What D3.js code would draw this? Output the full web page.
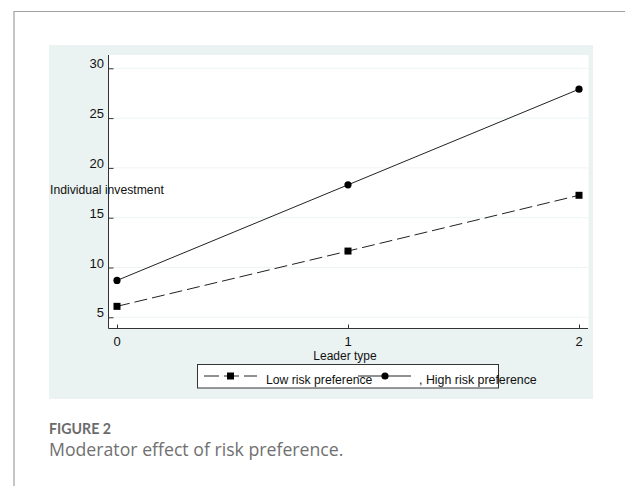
<!DOCTYPE html>
<html>
<head>
<meta charset="utf-8">
<script src="https://cdn.jsdelivr.net/npm/d3@7"></script>
<style>
  body { margin: 0; background: #fff; }
  svg { display: block; }
</style>
</head>
<body>
<script>
let w = 625;
let h = 486;

let leaderType = [0, 1, 2];
let lowRisk = [6.1, 11.65, 17.25];
let highRisk = [8.7, 18.3, 27.9];
let yTicks = [5, 10, 15, 20, 25, 30];
let seriesNames = ["Low risk preference", "High risk preference"];

let xScale = d3.scaleLinear()
               .domain([0, 2])
               .range([117, 579]);
let yScale = d3.scaleLinear()
               .domain([5, 30])
               .range([317.3, 68.3]);

let svg = d3.select("body")
            .append("svg")
            .attr("width", w)
            .attr("height", h);

// outer frame
svg.append("path")
   .attr("d", "M14,486 V11.5 H625")
   .attr("fill", "none")
   .attr("stroke", "#a0a0a0")
   .attr("stroke-width", 1.2);

// panel and plot region
svg.append("rect")
   .attr("x", 49).attr("y", 45)
   .attr("width", 544).attr("height", 354)
   .attr("fill", "#eaf2f2");
svg.append("rect")
   .attr("x", 108.5).attr("y", 55)
   .attr("width", 480).attr("height", 273.5)
   .attr("fill", "#fff");

// gridlines
svg.selectAll("line.grid")
   .data(yTicks)
   .enter()
   .append("line")
   .attr("class", "grid")
   .attr("x1", 109).attr("x2", 588)
   .attr("y1", d => yScale(d)).attr("y2", d => yScale(d))
   .attr("stroke", "#eef4f4")
   .attr("stroke-width", 1);

// y axis
let yAxis = d3.axisRight(yScale)
              .tickValues(yTicks)
              .tickSize(5)
              .tickFormat("");
svg.append("g")
   .attr("transform", "translate(108.5,0)")
   .call(yAxis)
   .call(g => g.select(".domain").remove())
   .call(g => g.selectAll("line").attr("stroke", "#333"));
svg.append("line")
   .attr("x1", 108.5).attr("x2", 108.5)
   .attr("y1", 55).attr("y2", 328.5)
   .attr("stroke", "#333");
svg.selectAll("text.ytick")
   .data(yTicks)
   .enter()
   .append("text")
   .attr("class", "ytick")
   .attr("x", 104)
   .attr("y", d => yScale(d))
   .attr("text-anchor", "end")
   .attr("font-family", "Liberation Sans, Arial, sans-serif")
   .attr("font-size", "13px")
   .attr("fill", "#111")
   .text(d => d);

// x axis
let xAxis = d3.axisTop(xScale)
              .tickValues(leaderType)
              .tickSize(4)
              .tickFormat("");
svg.append("g")
   .attr("transform", "translate(0,328.5)")
   .call(xAxis)
   .call(g => g.select(".domain").remove())
   .call(g => g.selectAll("line").attr("stroke", "#333"));
svg.append("line")
   .attr("x1", 108.5).attr("x2", 588)
   .attr("y1", 328.5).attr("y2", 328.5)
   .attr("stroke", "#333");
svg.selectAll("text.xtick")
   .data(leaderType)
   .enter()
   .append("text")
   .attr("class", "xtick")
   .attr("x", d => xScale(d))
   .attr("y", 345.5)
   .attr("text-anchor", "middle")
   .attr("font-family", "Liberation Sans, Arial, sans-serif")
   .attr("font-size", "13px")
   .attr("fill", "#111")
   .text(d => d);

// axis titles
svg.append("text")
   .attr("x", 345).attr("y", 359.5)
   .attr("text-anchor", "middle")
   .attr("font-family", "Liberation Sans, Arial, sans-serif")
   .attr("font-size", "12px")
   .attr("fill", "#111")
   .text("Leader type");
svg.append("text")
   .attr("x", 50).attr("y", 194)
   .attr("font-family", "Liberation Sans, Arial, sans-serif")
   .attr("font-size", "12.2px")
   .attr("fill", "#111")
   .text("Individual investment");

// lines
let line = d3.line()
             .x((d, i) => xScale(leaderType[i]))
             .y(d => yScale(d));
svg.append("path")
   .datum(lowRisk)
   .attr("d", line)
   .attr("fill", "none")
   .attr("stroke", "#222")
   .attr("stroke-width", 1)
   .attr("stroke-dasharray", "13,5");
svg.append("path")
   .datum(highRisk)
   .attr("d", line)
   .attr("fill", "none")
   .attr("stroke", "#222")
   .attr("stroke-width", 1);

// markers
svg.selectAll("rect.low")
   .data(lowRisk)
   .enter()
   .append("rect")
   .attr("class", "low")
   .attr("x", (d, i) => xScale(leaderType[i]) - 3.5)
   .attr("y", d => yScale(d) - 3.5)
   .attr("width", 7).attr("height", 7)
   .attr("fill", "#000");
svg.selectAll("circle.high")
   .data(highRisk)
   .enter()
   .append("circle")
   .attr("class", "high")
   .attr("cx", (d, i) => xScale(leaderType[i]))
   .attr("cy", d => yScale(d))
   .attr("r", 3.6)
   .attr("fill", "#000");

// legend
svg.append("rect")
   .attr("x", 197.5).attr("y", 364.5)
   .attr("width", 301).attr("height", 23.5)
   .attr("fill", "#fff")
   .attr("stroke", "#333")
   .attr("stroke-width", 1);
svg.append("line")
   .attr("x1", 204).attr("x2", 257)
   .attr("y1", 376).attr("y2", 376)
   .attr("stroke", "#222")
   .attr("stroke-dasharray", "15,5");
svg.append("rect")
   .attr("x", 227).attr("y", 372.5)
   .attr("width", 7).attr("height", 7)
   .attr("fill", "#000");
svg.append("text")
   .attr("x", 266).attr("y", 384)
   .attr("font-family", "Liberation Sans, Arial, sans-serif")
   .attr("font-size", "12.2px")
   .attr("fill", "#111")
   .text(seriesNames[0]);
svg.append("line")
   .attr("x1", 358).attr("x2", 411)
   .attr("y1", 376).attr("y2", 376)
   .attr("stroke", "#222");
svg.append("circle")
   .attr("cx", 385).attr("cy", 376)
   .attr("r", 3.6)
   .attr("fill", "#000");
svg.append("text")
   .attr("x", 419).attr("y", 384)
   .attr("font-family", "Liberation Sans, Arial, sans-serif")
   .attr("font-size", "12.4px")
   .attr("fill", "#111")
   .text(", " + seriesNames[1]);

// caption
svg.append("text")
   .attr("x", 49).attr("y", 434)
   .attr("font-family", "Lato, Open Sans, sans-serif")
   .attr("font-weight", 700)
   .attr("font-size", "14.2px")
   .attr("fill", "#6b6b6b")
   .text("FIGURE 2");
svg.append("text")
   .attr("x", 49).attr("y", 456)
   .attr("font-family", "Open Sans, Lato, sans-serif")
   .attr("font-size", "17.7px")
   .attr("fill", "#707070")
   .text("Moderator effect of risk preference.");
</script>
</body>
</html>
